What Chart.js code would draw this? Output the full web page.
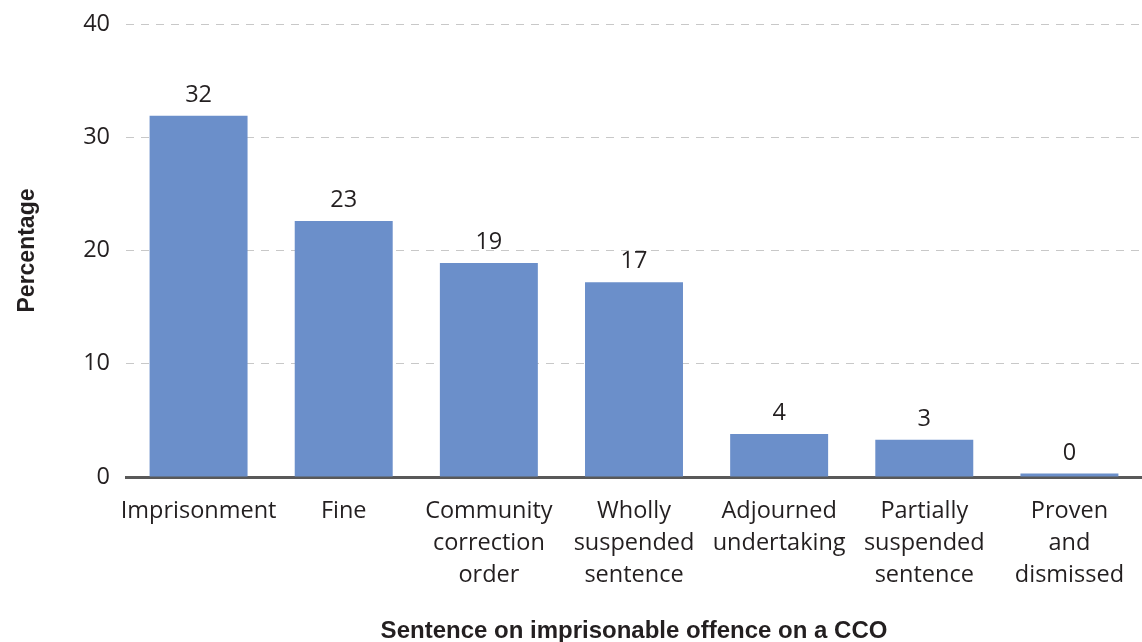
<!DOCTYPE html>
<html>
<head>
<meta charset="utf-8">
<script src="https://cdn.jsdelivr.net/npm/chart.js@4"></script>
<style>
  html, body { margin: 0; padding: 0; background: #fff; }
  #wrap { width: 1142px; height: 642px; }
</style>
</head>
<body>
<div id="wrap"><canvas id="myChart" width="1142" height="642"></canvas></div>
<script>
const categories = [
  "Imprisonment",
  "Fine",
  ["Community", "correction", "order"],
  ["Wholly", "suspended", "sentence"],
  ["Adjourned", "undertaking"],
  ["Partially", "suspended", "sentence"],
  ["Proven", "and", "dismissed"]
];
const percentages = [31.9, 22.6, 18.9, 17.2, 3.8, 3.3, 0.3];
const yTicks = [0, 10, 20, 30, 40];

const textColor = "#231f20";
const fontFamily = "'Open Sans', 'Liberation Sans', sans-serif";

// value labels above each bar
const barLabels = {
  id: "barLabels",
  afterDatasetsDraw(chart) {
    const ctx = chart.ctx;
    const meta = chart.getDatasetMeta(0);
    ctx.save();
    ctx.font = "23.5px " + fontFamily;
    ctx.fillStyle = textColor;
    ctx.textAlign = "center";
    ctx.textBaseline = "bottom";
    meta.data.forEach((bar, i) => {
      ctx.fillText(Math.round(percentages[i]), bar.x, bar.y - 9);
    });
    ctx.restore();
  }
};

const config = {
  type: "bar",
  data: {
    labels: categories,
    datasets: [{
      data: percentages,
      backgroundColor: "#6b8fca",
      barPercentage: 0.675,
      categoryPercentage: 1
    }]
  },
  options: {
    responsive: false,
    animation: false,
    layout: { padding: { top: 24, right: 0, left: 14, bottom: 0 } },
    plugins: {
      legend: { display: false },
      tooltip: { enabled: false }
    },
    scales: {
      x: {
        grid: { display: false },
        border: { display: true, color: "#595959", width: 3 },
        ticks: {
          color: textColor,
          font: { family: fontFamily, size: 23.5, lineHeight: 1.36 },
          maxRotation: 0,
          autoSkip: false,
          padding: 10
        },
        title: {
          display: true,
          text: "Sentence on imprisonable offence on a CCO",
          color: textColor,
          font: { family: "'Liberation Sans', Arial, sans-serif", size: 24, weight: "bold" },
          padding: { top: 26, bottom: -4 }
        },
        afterFit(scale) { scale.height = 165; }
      },
      y: {
        min: 0,
        max: 40,
        afterBuildTicks(scale) { scale.ticks = yTicks.map(v => ({ value: v })); },
        grid: {
          color: "#c8c8c8",
          lineWidth: 1,
          drawTicks: false
        },
        border: { display: false, dash: [8, 7] },
        ticks: {
          color: textColor,
          font: { family: fontFamily, size: 23.5, lineHeight: 0.6 },
          padding: 16
        },
        title: {
          display: true,
          text: "Percentage",
          color: textColor,
          font: { family: "'Liberation Sans', Arial, sans-serif", size: 23, weight: "bold" },
          padding: { top: 0, bottom: 0 }
        },
        afterFit(scale) { scale.width = 112; }
      }
    }
  },
  plugins: [barLabels]
};

const myChart = new Chart(document.getElementById("myChart"), config);
</script>
</body>
</html>
